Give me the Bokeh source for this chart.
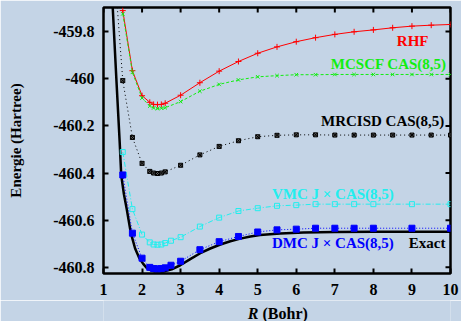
import math
from bokeh.plotting import figure
from bokeh.layouts import column
from bokeh.models import Label, LinearAxis, FixedTicker, PrintfTickFormatter, Range1d
from bokeh.embed import file_html
from bokeh.resources import INLINE

# ---------------- data ----------------
x_ticks = [1, 2, 3, 4, 5, 6, 7, 8, 9, 10]
y_ticks = [-460.8, -460.6, -460.4, -460.2, -460.0, -459.8]

R_hf = [1.5, 1.75, 2.0, 2.2, 2.3, 2.4, 2.5, 2.6, 3.0, 3.5, 4.0, 4.5, 5.0, 5.5,
        6.0, 6.5, 7.0, 7.5, 8.0, 8.5, 9.0, 9.5, 10.0]
E_rhf = [-459.711, -459.966, -460.072, -460.100, -460.109, -460.110, -460.109, -460.104,
         -460.070, -460.017, -459.968, -459.927, -459.892, -459.865, -459.843, -459.826,
         -459.812, -459.801, -459.793, -459.784, -459.777, -459.773, -459.770]
E_mcscf = [-459.725, -459.973, -460.082, -460.116, -460.124, -460.127, -460.125, -460.123,
           -460.097, -460.053, -460.024, -460.005, -459.992, -459.987, -459.983, -459.983,
           -459.982, -459.982, -459.982, -459.982, -459.982, -459.982, -459.982]

R_mrci = [1.25, 1.5, 1.75, 2.0, 2.2, 2.3, 2.4, 2.5, 2.6, 3.0, 3.5, 4.0, 4.5, 5.0, 5.5,
          6.0, 6.5, 7.0, 7.5, 8.0, 8.5, 9.0, 9.5, 10.0]
E_mrci = [-459.46, -460.008, -460.249, -460.359, -460.393, -460.400, -460.402, -460.400,
          -460.395, -460.367, -460.323, -460.287, -460.263, -460.246, -460.240, -460.238,
          -460.238, -460.239, -460.239, -460.239, -460.239, -460.239, -460.239, -460.239]

R_qmc = [1.5, 1.75, 2.0, 2.2, 2.3, 2.4, 2.5, 2.6, 2.75, 3.0, 3.5, 4.0, 4.5, 5.0, 5.5,
         6.0, 6.5, 7.0, 7.5, 8.0, 9.0, 10.0]
E_vmc = [-460.311, -460.553, -460.661, -460.694, -460.703, -460.704, -460.703, -460.697,
         -460.687, -460.672, -460.627, -460.589, -460.561, -460.549, -460.539, -460.536,
         -460.532, -460.532, -460.532, -460.532, -460.532, -460.532]
E_dmc = [-460.408, -460.655, -460.761, -460.800, -460.805, -460.806, -460.805, -460.802,
         -460.791, -460.774, -460.725, -460.691, -460.669, -460.650, -460.641, -460.638,
         -460.634, -460.634, -460.634, -460.634, -460.634, -460.634]

R_exact = [1.20, 1.24, 1.33, 1.42, 1.46, 1.53, 1.60, 1.71, 1.82, 1.93, 2.03, 2.12, 2.20,
           2.34, 2.55, 2.77, 2.99, 3.25, 3.51, 3.77, 4.03, 4.29, 4.55, 4.81, 5.06, 5.58,
           6.19, 7.0, 8.0, 9.0, 10.0]
E_exact = [-459.59, -459.70, -459.99, -460.27, -460.41, -460.49, -460.55, -460.655, -460.72,
           -460.761, -460.785, -460.802, -460.810, -460.818, -460.818, -460.808, -460.791,
           -460.765, -460.740, -460.720, -460.703, -460.689, -460.678, -460.669, -460.663,
           -460.656, -460.652, -460.650, -460.649, -460.649, -460.649]

# ---------------- style ----------------
BG = "#c4d4e6"
FONT = "Liberation Serif"
RED, GREEN, CYAN, BLUE = "#ff0000", "#11ee11", "#22eeee", "#0000ff"
X0, X1, Y0, Y1 = 1, 10, -460.826, -459.698

p = figure(width=461, height=300, output_backend="svg", toolbar_location=None,
           x_range=Range1d(X0, X1), y_range=Range1d(Y0, Y1),
           min_border_left=103, min_border_right=11, min_border_top=7, min_border_bottom=27,
           background_fill_color=BG, border_fill_color=BG,
           x_axis_location=None, y_axis_location=None)
p.grid.visible = False
p.outline_line_color = "black"
p.outline_line_width = 2.5


def make_axis(ticks):
    ax = LinearAxis(ticker=FixedTicker(ticks=ticks))
    ax.axis_line_color = None
    ax.major_tick_in = 5
    ax.major_tick_out = 0
    ax.minor_tick_in = 0
    ax.minor_tick_out = 0
    ax.major_tick_line_width = 2
    ax.major_tick_line_color = "black"
    ax.major_label_text_font = FONT
    ax.major_label_text_font_style = "bold"
    ax.major_label_text_font_size = "16px"
    ax.major_label_text_color = "black"
    ax.formatter = PrintfTickFormatter(format="%g")
    return ax


xb = make_axis(x_ticks)
xb.major_label_standoff = 10
yl = make_axis(y_ticks)
yl.major_label_standoff = 9
yl.axis_label = "Energie (Hartree)"
yl.axis_label_text_font = FONT
yl.axis_label_text_font_style = "bold"
yl.axis_label_text_font_size = "15px"
yl.axis_label_text_color = "black"
yl.axis_label_standoff = 26
p.add_layout(xb, "below")
p.add_layout(yl, "left")

# mirrored ticks on the top and right edges (half of each dash is clipped by the frame)
p.scatter(x_ticks, [Y1] * len(x_ticks), marker="dash", angle=math.pi / 2, size=10,
          line_color="black", line_width=2)
p.scatter([X1] * len(y_ticks), y_ticks, marker="dash", size=10,
          line_color="black", line_width=2)

# exact curve
p.line(R_exact, E_exact, line_color="black", line_width=2.5)

# RHF
p.line(R_hf, E_rhf, line_color=RED, line_width=1)
p.scatter(R_hf, E_rhf, marker="cross", size=6, line_color=RED, line_width=1)
# MCSCF
p.line(R_hf, E_mcscf, line_color=GREEN, line_width=1, line_dash="3 2")
p.scatter(R_hf, E_mcscf, marker="x", size=5, line_color=GREEN, line_width=1)
# MRCISD
p.line(R_mrci, E_mrci, line_color="black", line_width=1, line_dash="1 3")
p.scatter(R_mrci, E_mrci, marker="square_x", size=4, line_color="black",
          fill_color="#666666", line_width=1)
# VMC
p.line(R_qmc, E_vmc, line_color=CYAN, line_width=1, line_dash="5 2 1 2")
p.scatter(R_qmc, E_vmc, marker="square", size=5, line_color=CYAN, fill_color=None, line_width=1)
# DMC
p.line(R_qmc, E_dmc, line_color=BLUE, line_width=1, line_dash="1 2")
p.scatter(R_qmc, E_dmc, marker="square", size=6, line_color=BLUE, fill_color=BLUE)


def lab(x, y, text, color, align="right"):
    p.add_layout(Label(x=x, y=y, text=text, text_color=color, text_font=FONT,
                       text_font_style="bold", text_font_size="15px",
                       text_align=align, text_baseline="middle"))


lab(9.43, -459.838, "RHF", RED)
lab(9.90, -459.937, "MCSCF CAS(8,5)", GREEN)
lab(9.84, -460.178, "MRCISD CAS(8,5)", "black")
lab(8.53, -460.489, "VMC J × CAS(8,5)", CYAN)
lab(8.53, -460.695, "DMC J × CAS(8,5)", BLUE)
lab(9.87, -460.695, "Exact", "black")

# strip below the chart holding the x axis title: italic R + (Bohr)
# (its frame is aligned with the chart frame, so x is measured from the chart's left edge)
q = figure(width=461, height=21, output_backend="svg", toolbar_location=None,
           x_range=Range1d(0, 1), y_range=Range1d(0, 1),
           min_border_left=0, min_border_right=0, min_border_top=0, min_border_bottom=0,
           background_fill_color=BG, border_fill_color=BG,
           x_axis_location=None, y_axis_location=None)
q.grid.visible = False
q.outline_line_color = None
q.add_layout(Label(x=155, y=8, x_units="screen", y_units="screen", text="R",
                   text_font=FONT, text_font_style="bold italic", text_font_size="16px",
                   text_align="right", text_baseline="middle", text_color="black"))
q.add_layout(Label(x=159, y=8, x_units="screen", y_units="screen", text="(Bohr)",
                   text_font=FONT, text_font_style="bold", text_font_size="16px",
                   text_align="left", text_baseline="middle", text_color="black"))

open("out.html", "w").write(file_html(column(p, q, spacing=0), INLINE))
